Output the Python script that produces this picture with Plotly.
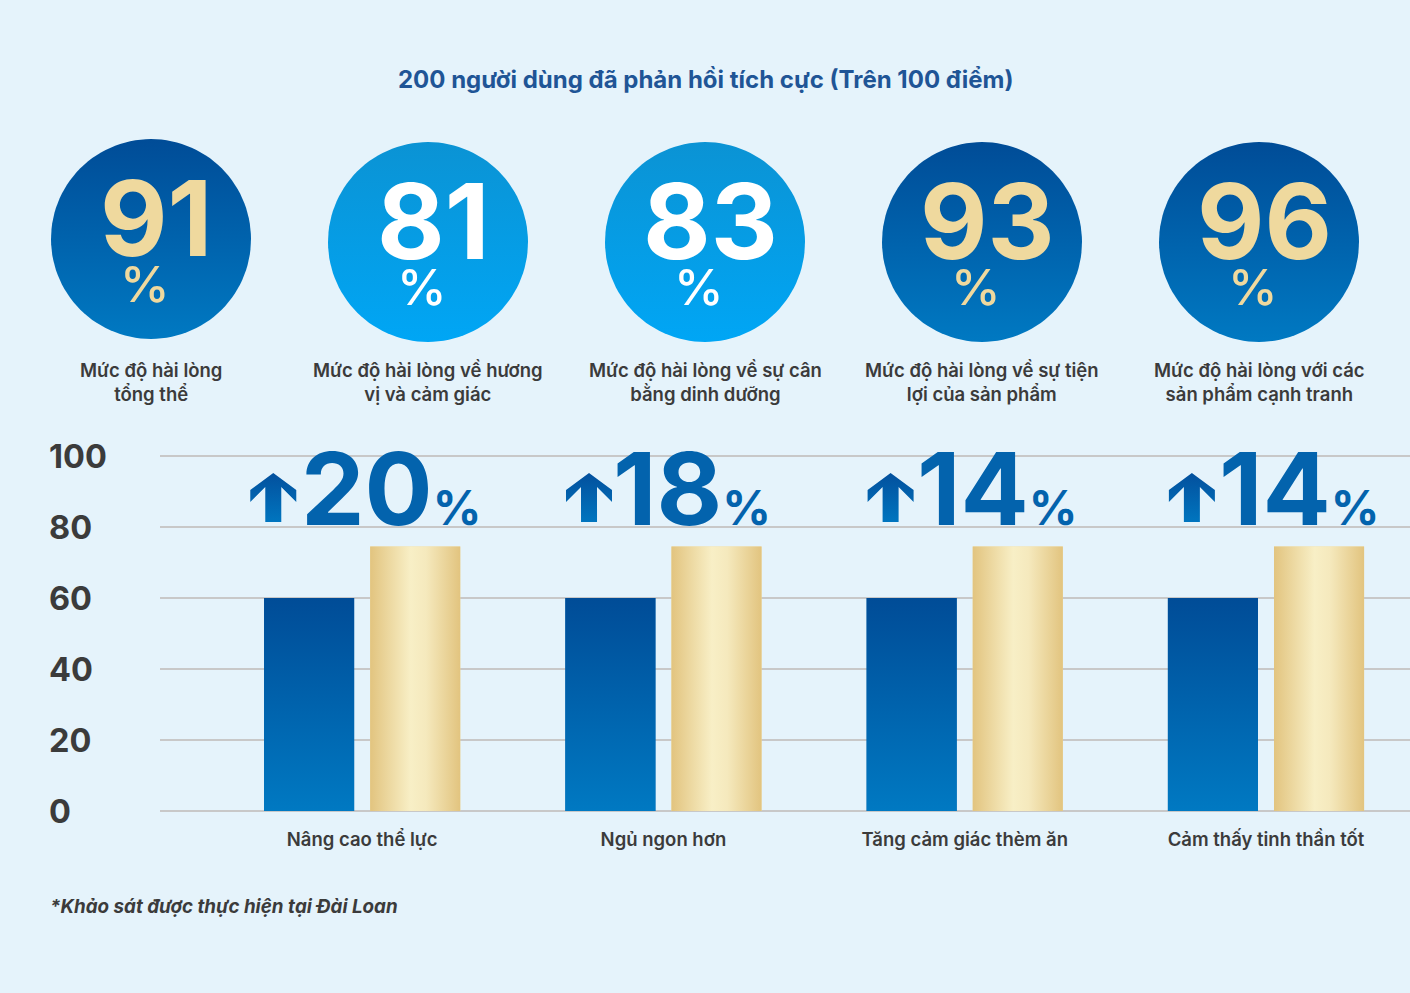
import numpy as np
import plotly.graph_objects as go

# ---------------- data ----------------
title_text = "200 người dùng đã phản hồi tích cực (Trên 100 điểm)"
circle_values = [91, 81, 83, 93, 96]
circle_labels = [
    "Mức độ hài lòng<br>tổng thể",
    "Mức độ hài lòng về hương<br>vị và cảm giác",
    "Mức độ hài lòng về sự cân<br>bằng dinh dưỡng",
    "Mức độ hài lòng về sự tiện<br>lợi của sản phẩm",
    "Mức độ hài lòng với các<br>sản phẩm cạnh tranh",
]
circle_styles = ["dark", "light", "light", "dark", "dark"]
categories = ["Nâng cao thể lực", "Ngủ ngon hơn", "Tăng cảm giác thèm ăn", "Cảm thấy tinh thần tốt"]
before_values = [60, 60, 60, 60]
after_values = [74.5, 74.5, 74.5, 74.5]
increase_pct = [20, 18, 14, 14]
y_ticks = [0, 20, 40, 60, 80, 100]
footnote = "*Khảo sát được thực hiện tại Đài Loan"

# ---------------- style ----------------
W, H = 1410, 993
BG = "#e5f3fb"
TXT = "#3b3b3b"
TITLE_C = "#1f5596"
BLUE_TOP, BLUE_BOT = "#004c97", "#0079c2"
LIGHT_TOP, LIGHT_BOT = "#0b93d4", "#00a6f5"
GOLD_EDGE, GOLD_MID = "#e2c47f", "#f8efc6"
GOLD_TXT = "#efd99e"
NUM_BLUE = "#0363ad"
FONT = "Inter"
NFONT = "Inter"

xpos = list(range(len(categories)))
BAR_W = 0.299
OFF_BEFORE = -0.3256
OFF_AFTER = 0.0266
X_RANGE = [-0.671, 3.478]
Y_RANGE = [-1, 101]
px_x = 1250 / (X_RANGE[1] - X_RANGE[0])   # px per x unit
px_y = 3.55                               # px per y unit

fig = go.Figure()

# ---------------- bars ----------------
fig.add_trace(go.Bar(x=xpos, y=before_values, width=BAR_W, offset=OFF_BEFORE,
                     marker=dict(color="#0363ad", line=dict(width=0)),
                     name="Trước", hoverinfo="skip", showlegend=False))
fig.add_trace(go.Bar(x=xpos, y=after_values, width=BAR_W, offset=OFF_AFTER,
                     marker=dict(color="#f1dea6", line=dict(width=0)),
                     name="Sau", hoverinfo="skip", showlegend=False))

# gradient overlays computed from the same values
for xi, v in zip(xpos, before_values):
    l, r = xi + OFF_BEFORE, xi + OFF_BEFORE + BAR_W
    fig.add_trace(go.Scatter(x=[l, r, r, l, l], y=[0, 0, v, v, 0], mode="lines",
                             line=dict(width=0), fill="toself",
                             fillgradient=dict(type="vertical", start=0, stop=v,
                                               colorscale=[[0, BLUE_BOT], [1, BLUE_TOP]]),
                             hoverinfo="skip", showlegend=False))
for xi, v in zip(xpos, after_values):
    l, r = xi + OFF_AFTER, xi + OFF_AFTER + BAR_W
    fig.add_trace(go.Scatter(x=[l, r, r, l, l], y=[0, 0, v, v, 0], mode="lines",
                             line=dict(width=0), fill="toself",
                             fillgradient=dict(type="horizontal", start=l, stop=r,
                                               colorscale=[[0, GOLD_EDGE], [0.45, GOLD_MID],
                                                           [0.62, "#f5e9bd"], [1, GOLD_EDGE]]),
                             hoverinfo="skip", showlegend=False))

# ---------------- up arrows + increase labels ----------------
arrow_offsets = [-0.295, -0.247, -0.246, -0.246]
text_offsets = [-0.189, -0.153, -0.146, -0.143]
# arrow template in px relative to tip (x right, y down)
arrow_px = [(0, 0), (23, 17), (23, 29), (8, 14), (8, 49), (-8, 49), (-8, 14),
            (-23, 29), (-23, 17), (0, 0)]
ARROW_TIP_Y = 95.2
for xi, ao, to, pct in zip(xpos, arrow_offsets, text_offsets, increase_pct):
    cx = xi + ao
    ax_ = [cx + p[0] / px_x for p in arrow_px]
    ay_ = [ARROW_TIP_Y - p[1] / px_y for p in arrow_px]
    fig.add_trace(go.Scatter(x=ax_, y=ay_, mode="lines", line=dict(width=0), fill="toself",
                             fillgradient=dict(type="vertical", start=min(ay_), stop=max(ay_),
                                               colorscale=[[0, "#0075bf"], [1, "#03509d"]]),
                             hoverinfo="skip", showlegend=False))
    fig.add_annotation(x=xi + to, y=90.9, xref="x", yref="y", xanchor="left", yanchor="middle",
                       xshift=-6, showarrow=False,
                       text=f"{pct}<span style='font-size:48px'>%</span>",
                       font=dict(family=NFONT, size=101, color=NUM_BLUE, weight=700))

# ---------------- circles (pixel overlay axes) ----------------
circle_cx = [151, 428, 705, 982, 1259]
circle_cy = [239, 242, 242, 242, 242]
R = 100
theta = np.linspace(0, 2 * np.pi, 121)
for cx, cy, val, st, lab in zip(circle_cx, circle_cy, circle_values, circle_styles, circle_labels):
    top, bot = (BLUE_TOP, BLUE_BOT) if st == "dark" else (LIGHT_TOP, LIGHT_BOT)
    fig.add_trace(go.Scatter(x=cx + R * np.cos(theta), y=cy + R * np.sin(theta),
                             xaxis="x2", yaxis="y2", mode="lines", line=dict(width=0),
                             fill="toself",
                             fillgradient=dict(type="vertical", start=cy + R, stop=cy - R,
                                               colorscale=[[0, bot], [1, top]]),
                             hoverinfo="skip", showlegend=False))
    col = GOLD_TXT if st == "dark" else "#ffffff"
    fig.add_annotation(x=cx + 5, y=cy - 21, xref="x2", yref="y2", showarrow=False,
                       text=str(val), xanchor="center", yanchor="middle",
                       font=dict(family=NFONT, size=104, color=col, weight=700))
    fig.add_annotation(x=cx - 6, y=cy + 45, xref="x2", yref="y2", showarrow=False,
                       text="%", xanchor="center", yanchor="middle",
                       font=dict(family=NFONT, size=50, color=col, weight=500))
    fig.add_annotation(x=cx, y=382, xref="x2", yref="y2", showarrow=False,
                       text=lab, xanchor="center", yanchor="middle", align="center",
                       font=dict(family=FONT, size=18.5, color=TXT, weight=600))

# ---------------- y tick labels (left aligned) ----------------
for t in y_ticks:
    fig.add_annotation(x=47 / W, y=t, xref="paper", yref="y", xanchor="left", yanchor="middle",
                       showarrow=False, text=str(t),
                       font=dict(family=FONT, size=32.5, color=TXT, weight=700))

# ---------------- title & footnote ----------------
fig.add_annotation(x=705 / W, y=1 - 80 / H, xref="paper", yref="paper", showarrow=False,
                   text=title_text, xanchor="center", yanchor="middle",
                   font=dict(family=FONT, size=24, color=TITLE_C, weight=700))
fig.add_annotation(x=48 / W, y=1 - 906 / H, xref="paper", yref="paper", showarrow=False,
                   text=footnote, xanchor="left", yanchor="middle",
                   font=dict(family=FONT, size=18.8, color=TXT, weight=700, style="italic"))

y_bot = 811 + 1 * px_y
y_top = 456 - 1 * px_y
fig.update_layout(
    width=W, height=H, autosize=False,
    margin=dict(l=0, r=0, t=0, b=0),
    paper_bgcolor=BG, plot_bgcolor="rgba(0,0,0,0)",
    barmode="overlay", showlegend=False,
    xaxis=dict(domain=[160 / W, 1], range=X_RANGE, tickvals=xpos, ticktext=categories,
               showgrid=False, zeroline=False, showline=False, ticks="",
               ticklabelstandoff=12, fixedrange=True,
               tickfont=dict(family=FONT, size=18.5, color=TXT, weight=600)),
    yaxis=dict(domain=[(H - y_bot) / H, (H - y_top) / H], range=Y_RANGE, tickvals=y_ticks,
               showticklabels=False, gridcolor="#c8c8c8", gridwidth=2, zeroline=False,
               showline=False, fixedrange=True),
    xaxis2=dict(domain=[0, 1], range=[0, W], visible=False, anchor="y2", fixedrange=True),
    yaxis2=dict(domain=[0, 1], range=[H, 0], visible=False, anchor="x2", fixedrange=True),
)

fig.write_html("out.html", config={"displayModeBar": False},
               post_script="document.body.style.margin='0';")
